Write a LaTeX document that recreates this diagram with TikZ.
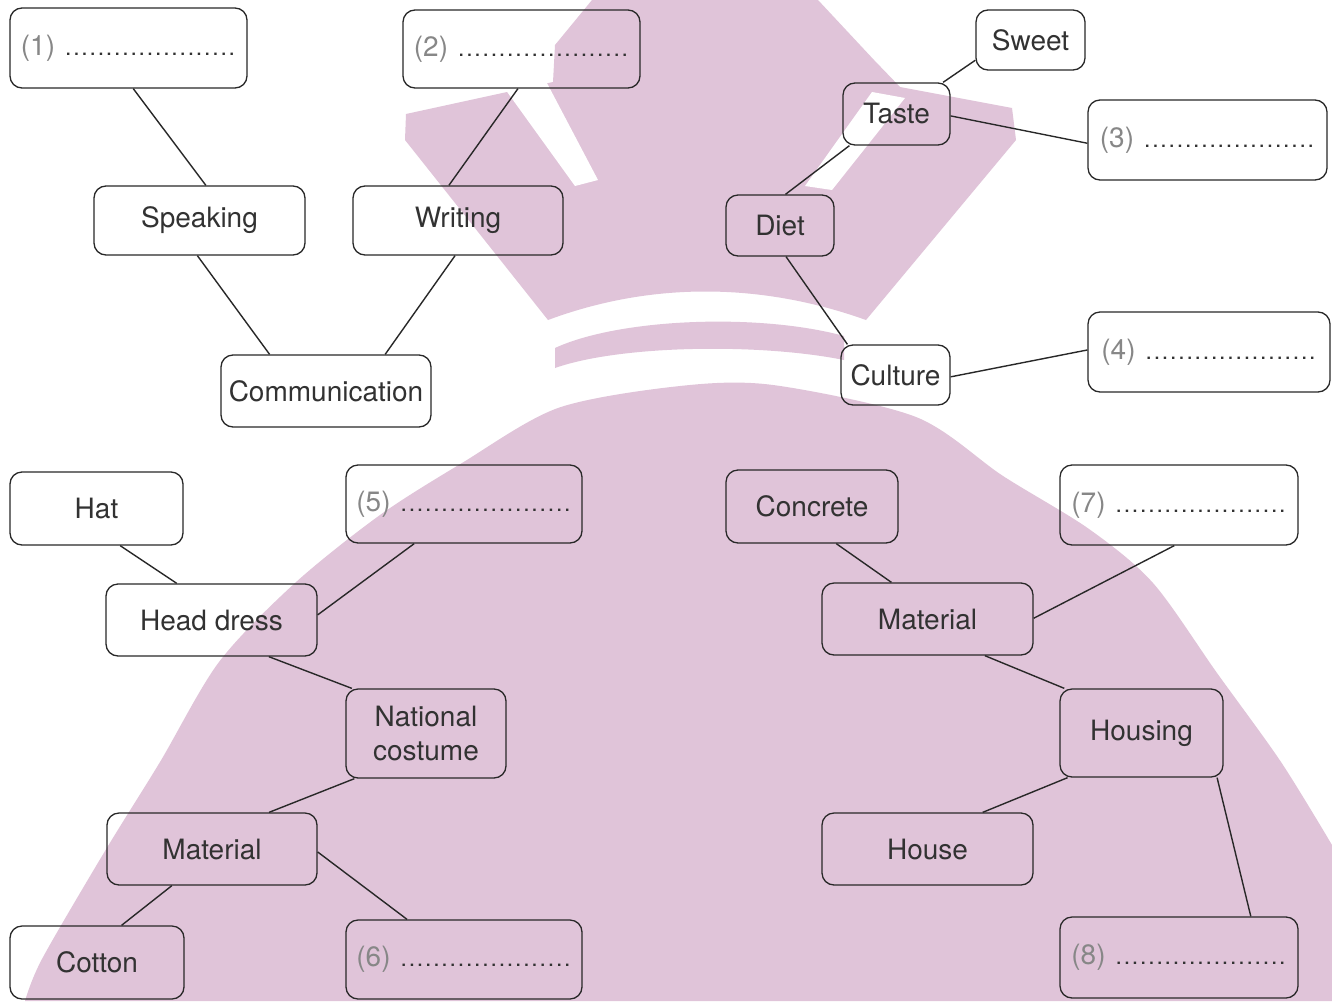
\documentclass[tikz,border=0pt]{standalone}
\usepackage{fontspec}
\setmainfont{TeX Gyre Heros}
\usetikzlibrary{calc}
\definecolor{wm}{RGB}{224,196,217}
\definecolor{txtc}{RGB}{50,50,50}
\definecolor{numc}{RGB}{135,135,135}
\definecolor{linec}{RGB}{40,40,40}
\newcommand\dotrow{{\fontsize{23}{23}\selectfont\hbox to 172pt{\xleaders\hbox to 8pt{\hss.\hss}\hfill}}}
\newcommand\blank[1]{\textcolor{numc}{(#1)}\hspace{9pt}\dotrow}
\begin{document}
\begin{tikzpicture}[x=1pt,y=-1pt,
  box/.style={draw=linec, line width=1.3pt, rounded corners=12pt, inner sep=0pt,
    font=\fontsize{28}{34}\selectfont, text=txtc, align=center},
  conn/.style={draw=linec, line width=1.4pt}]
\useasboundingbox (0,0) rectangle (1332,1001);
\fill[white] (0,0) rectangle (1332,1001);
% watermark
\fill[wm] plot[smooth] coordinates {(25,1001) (42,959) (105,851) (160,762) (219,662) (295,583) (380,515) (462,463) (558,408) (680,386) (773,385) (916,417) (1003,476) (1089,529) (1153,583) (1217,673) (1281,762) (1332,845)} -- (1332,1001) -- cycle;
\fill[wm] (592,0) -- (818,0) -- (874,60) -- (900,87) -- (1012,108) -- (1016,140) -- (866,320) .. controls (760,282) and (650,282) .. (548,320) -- (405,140) -- (406,114) -- (553,82) -- (555,45) -- cycle;
\fill[white] (500,82) -- (538,66) -- (598,180) -- (575,186) -- cycle;
\fill[white] (872,92) -- (905,98) -- (832,190) -- (805,186) -- cycle;
\fill[wm] (555,348) .. controls (620,318) and (760,313) .. (844,336) -- (844,360) .. controls (760,343) and (620,345) .. (555,368) -- cycle;
% nodes
\node[box, minimum width=237, minimum height=80] (b1) at (128.5,48) {\blank{1}};
\node[box, minimum width=237, minimum height=78] (b2) at (521.5,49) {\blank{2}};
\node[box, minimum width=211, minimum height=69] (speak) at (199.5,220.5) {Speaking};
\node[box, minimum width=210, minimum height=69] (writ) at (458,220.5) {Writing};
\node[box, minimum width=210, minimum height=72] (comm) at (326,391) {Communication};
\node[box, minimum width=109, minimum height=60] (sweet) at (1030.5,40) {Sweet};
\node[box, minimum width=107, minimum height=62] (taste) at (896.5,114) {Taste};
\node[box, minimum width=239, minimum height=80] (b3) at (1207.5,140) {\blank{3}};
\node[box, minimum width=108, minimum height=61] (diet) at (780,225.5) {Diet};
\node[box, minimum width=109, minimum height=60] (cult) at (895.5,375) {Culture};
\node[box, minimum width=242, minimum height=80] (b4) at (1209,352) {\blank{4}};
\node[box, minimum width=173, minimum height=73] (hat) at (96.5,508.5) {Hat};
\node[box, minimum width=236, minimum height=78] (b5) at (464,504) {\blank{5}};
\node[box, minimum width=211, minimum height=72] (head) at (211.5,620) {Head dress};
\node[box, minimum width=160, minimum height=89] (natl) at (426,733.5) {National\\costume};
\node[box, minimum width=210, minimum height=72] (matL) at (212,849) {Material};
\node[box, minimum width=174, minimum height=73] (cotton) at (97,962.5) {Cotton};
\node[box, minimum width=236, minimum height=79] (b6) at (464,959.5) {\blank{6}};
\node[box, minimum width=172, minimum height=73] (concr) at (812,506.5) {Concrete};
\node[box, minimum width=238, minimum height=80] (b7) at (1179,505) {\blank{7}};
\node[box, minimum width=211, minimum height=72] (matR) at (927.5,619) {Material};
\node[box, minimum width=163, minimum height=88] (housing) at (1141.5,733) {Housing};
\node[box, minimum width=211, minimum height=72] (house) at (927.5,849) {House};
\node[box, minimum width=238, minimum height=81] (b8) at (1179,957.5) {\blank{8}};
% connectors
\draw[conn] ($(b1.south west)!0.52!(b1.south east)$) -- ($(speak.north west)!0.53!(speak.north east)$);
\draw[conn] ($(b2.south west)!0.485!(b2.south east)$) -- ($(writ.north west)!0.457!(writ.north east)$);
\draw[conn] ($(speak.south west)!0.49!(speak.south east)$) -- ($(comm.north west)!0.233!(comm.north east)$);
\draw[conn] ($(writ.south west)!0.486!(writ.south east)$) -- ($(comm.north west)!0.78!(comm.north east)$);
\draw[conn] ($(sweet.north west)!0.83!(sweet.south west)$) -- ($(taste.north west)!0.93!(taste.north east)$);
\draw[conn] ($(taste.north east)!0.53!(taste.south east)$) -- ($(b3.north west)!0.54!(b3.south west)$);
\draw[conn] ($(taste.south west)!0.065!(taste.south east)$) -- ($(diet.north west)!0.55!(diet.north east)$);
\draw[conn] ($(diet.south west)!0.555!(diet.south east)$) -- ($(cult.north west)!0.064!(cult.north east)$);
\draw[conn] ($(cult.north east)!0.53!(cult.south east)$) -- ($(b4.north west)!0.475!(b4.south west)$);
\draw[conn] ($(hat.south west)!0.636!(hat.south east)$) -- ($(head.north west)!0.336!(head.north east)$);
\draw[conn] ($(b5.south west)!0.29!(b5.south east)$) -- ($(head.north east)!0.43!(head.south east)$);
\draw[conn] ($(head.south west)!0.77!(head.south east)$) -- ($(natl.north west)!0.04!(natl.north east)$);
\draw[conn] ($(natl.south west)!0.056!(natl.south east)$) -- ($(matL.north west)!0.77!(matL.north east)$);
\draw[conn] ($(matL.south west)!0.31!(matL.south east)$) -- ($(cotton.north west)!0.64!(cotton.north east)$);
\draw[conn] ($(matL.north east)!0.54!(matL.south east)$) -- ($(b6.north west)!0.26!(b6.north east)$);
\draw[conn] ($(concr.south west)!0.64!(concr.south east)$) -- ($(matR.north west)!0.33!(matR.north east)$);
\draw[conn] ($(b7.south west)!0.48!(b7.south east)$) -- ($(matR.north east)!0.49!(matR.south east)$);
\draw[conn] ($(matR.south west)!0.77!(matR.south east)$) -- ($(housing.north west)!0.03!(housing.north east)$);
\draw[conn] ($(housing.south west)!0.05!(housing.south east)$) -- ($(house.north west)!0.76!(house.north east)$);
\draw[conn] ($(housing.south west)!0.96!(housing.south east)$) -- ($(b8.north west)!0.8!(b8.north east)$);
\end{tikzpicture}
\end{document}
